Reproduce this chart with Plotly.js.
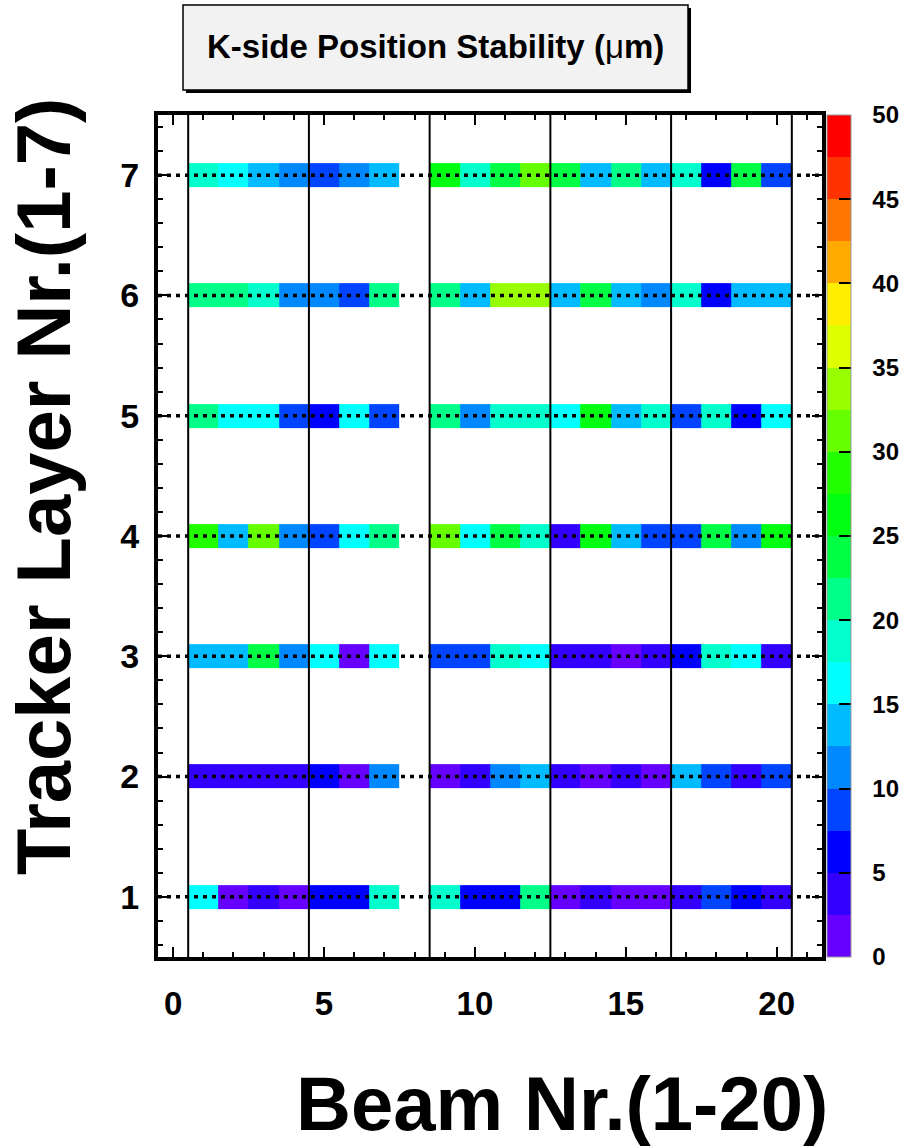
<!DOCTYPE html>
<html>
<head>
<meta charset="utf-8">
<script src="https://cdn.plot.ly/plotly-3.0.1.min.js"></script>
<style>html,body{margin:0;padding:0;background:#fff;}#chart{width:904px;height:1146px;}</style>
</head>
<body>
<div id="chart"></div>
<script>
// ---- data ----
const beams = [1,2,3,4,5,6,7,8,9,10,11,12,13,14,15,16,17,18,19,20];
const layers = [1,2,3,4,5,6,7];
// stability values (um) per layer, index = beam-1; beam 8 has no data
const layer1 = [16.25,1.25,3.75,1.25,6.25,6.25,18.75,null,18.75,6.25,6.25,21.25,1.25,3.75,1.25,1.25,3.75,8.75,6.25,3.75];
const layer2 = [3.75,3.75,3.75,3.75,6.25,1.25,11.25,null,1.25,3.75,11.25,13.75,3.75,1.25,3.75,1.25,13.75,8.75,3.75,8.75];
const layer3 = [13.75,13.75,23.75,11.25,16.25,1.25,16.25,null,8.75,8.75,18.75,16.25,3.75,3.75,1.25,3.75,6.25,18.75,16.25,3.75];
const layer4 = [28.75,13.75,31.25,11.25,8.75,16.25,21.25,null,31.25,16.25,23.75,18.75,3.75,26.25,13.75,8.75,8.75,23.75,11.25,26.25];
const layer5 = [21.25,16.25,16.25,8.75,6.25,16.25,8.75,null,21.25,11.25,18.75,18.75,16.25,26.25,13.75,18.75,8.75,18.75,6.25,16.25];
const layer6 = [21.25,21.25,18.75,11.25,11.25,8.75,21.25,null,21.25,13.75,33.75,33.75,13.75,23.75,13.75,11.25,18.75,6.25,13.75,13.75];
const layer7 = [18.75,16.25,13.75,11.25,8.75,11.25,13.75,null,26.25,18.75,23.75,31.25,23.75,13.75,21.25,13.75,18.75,6.25,23.75,8.75];
const groupBoundaries = [0.5,4.5,8.5,12.5,16.5,20.5];
const xTicks = [0,5,10,15,20];
const cbTicks = [0,5,10,15,20,25,30,35,40,45,50];
const paletteColors = ['#6600ff','#3300ff','#0000ff','#0044ff','#0088ff','#00bbff','#00ffff','#00ffcc','#00ff88','#00ff44',
                       '#00ff11','#22ff00','#66ff00','#99ff00','#ddff00','#ffee00','#ffaa00','#ff7700','#ff3300','#ff0000'];

// ---- build heatmap grid (each layer row is a thin band) ----
const rows = [layer1,layer2,layer3,layer4,layer5,layer6,layer7];
const halfH = 0.1;
const yEdges = [];
const z = [];
layers.forEach((L,i)=>{
  yEdges.push(L-halfH, L+halfH);
  z.push(rows[i]);
  if(i<layers.length-1) z.push(beams.map(()=>null));
});
const xEdges = [beams[0]-0.5].concat(beams.map(b=>b+0.5));

const cs = [];
paletteColors.forEach((c,i)=>{ cs.push([i/paletteColors.length,c]); cs.push([(i+1)/paletteColors.length,c]); });
const clearScale = [[0,'rgba(0,0,0,0)'],[1,'rgba(0,0,0,0)']];

const font = 'Liberation Sans, Arial, Helvetica, sans-serif';
const cbBase = {
  x:1.0075, xanchor:'left', xpad:0, ypad:0, y:0.5, yanchor:'middle',
  len:1, lenmode:'fraction', thickness:24, tickvals:cbTicks
};

// visible heatmap with the coloured scale bar and its inside tick marks (its own labels hidden by colour)
const trace = {
  type:'heatmap', x:xEdges, y:yEdges, z:z,
  colorscale:cs, zmin:0, zmax:50, hoverongaps:false,
  colorbar:Object.assign({}, cbBase, {
    outlinecolor:'#999', outlinewidth:1,
    ticks:'inside', ticklen:12, tickwidth:2, tickcolor:'#000',
    tickfont:{family:font, size:24, color:'rgba(0,0,0,0)', weight:'bold'}
  })
};
// transparent copy whose (transparent) scale bar only carries the offset tick labels
const traceLabels = {
  type:'heatmap', x:xEdges, y:yEdges, z:z,
  colorscale:clearScale, zmin:0, zmax:50, hoverongaps:false,
  colorbar:Object.assign({}, cbBase, {
    outlinewidth:0,
    ticks:'outside', ticklen:17, tickwidth:1, tickcolor:'rgba(0,0,0,0)',
    tickfont:{family:font, size:24, color:'#000', weight:'bold'}
  })
};

const W=904, H=1146, L0=158, R0=822, T0=115, B0=957;
const px = v => (v-L0)/(R0-L0);
const py = v => (B0-v)/(B0-T0);

const shapes = [];
groupBoundaries.forEach(b=>shapes.push({type:'line', xref:'x', yref:'paper', x0:b, x1:b, y0:0, y1:1, line:{color:'#000', width:2}}));
layers.forEach(L=>shapes.push({type:'line', xref:'paper', yref:'y', x0:0, x1:1, y0:L, y1:L, line:{color:'#000', width:3.5, dash:'4px,5px'}}));
// title box with shadow
shapes.push({type:'rect', xref:'paper', yref:'paper', x0:px(186), x1:px(691), y0:py(8), y1:py(93), fillcolor:'#000', line:{width:0}});
shapes.push({type:'rect', xref:'paper', yref:'paper', x0:px(183), x1:px(688), y0:py(5), y1:py(90), fillcolor:'#f2f2f2', line:{color:'#000', width:1.5}});

const layout = {
  width:W, height:H,
  margin:{l:L0, r:W-R0, t:T0, b:H-B0, autoexpand:false},
  paper_bgcolor:'#fff', plot_bgcolor:'#fff',
  showlegend:false,
  xaxis:{
    range:[-0.5,21.5], tickvals:xTicks, ticks:'inside', ticklen:10, tickwidth:2, tickcolor:'#000',
    minor:{dtick:1, tick0:0, ticks:'inside', ticklen:5, tickwidth:2, tickcolor:'#000'},
    showline:true, linecolor:'#000', linewidth:4, mirror:'allticks',
    showgrid:false, zeroline:false, ticklabelstandoff:14,
    tickfont:{family:font, size:33, color:'#000', weight:'bold'}
  },
  yaxis:{
    range:[0.5,7.5], tickvals:layers, ticks:'inside', ticklen:10, tickwidth:2, tickcolor:'#000',
    minor:{dtick:0.2, tick0:0, ticks:'inside', ticklen:5, tickwidth:2, tickcolor:'#000'},
    showline:true, linecolor:'#000', linewidth:4, mirror:'allticks',
    showgrid:false, zeroline:false, ticklabelstandoff:8,
    tickfont:{family:font, size:34, color:'#000', weight:'bold'}
  },
  shapes:shapes,
  annotations:[
    {xref:'paper', yref:'paper', x:px(435), y:py(47), xanchor:'center', yanchor:'middle', showarrow:false,
     text:'<b>K-side Position Stability (</b>μ<b>m)</b>', font:{family:font, size:33, color:'#000'}},
    {xref:'paper', yref:'paper', x:px(562), y:py(1103), xanchor:'center', yanchor:'middle', showarrow:false,
     text:'Beam Nr.(1-20)', font:{family:font, size:76, color:'#000', weight:'bold'}},
    {xref:'paper', yref:'paper', x:px(43), y:py(487), xanchor:'center', yanchor:'middle', showarrow:false, textangle:-90,
     text:'Tracker Layer Nr.(1-7)', font:{family:font, size:76, color:'#000', weight:'bold'}}
  ]
};

Plotly.newPlot('chart',[trace, traceLabels],layout,{displayModeBar:false, staticPlot:true});
</script>
</body>
</html>
